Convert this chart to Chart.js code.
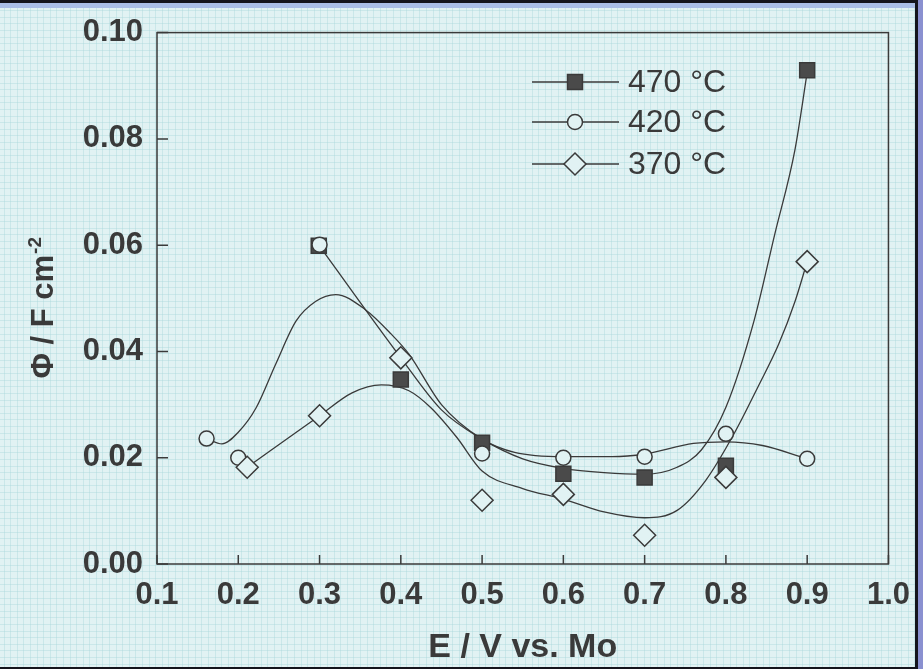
<!DOCTYPE html>
<html>
<head>
<meta charset="utf-8">
<script src="https://cdn.jsdelivr.net/npm/chart.js@4.4.1/dist/chart.umd.min.js"></script>
<style>
  html, body { margin: 0; padding: 0; background: #e1f2f3; }
  #wrap { width: 923px; height: 669px; position: relative; }
</style>
</head>
<body>
<div id="wrap"><canvas id="myChart"></canvas></div>
<script>
// measured points: E / V vs. Mo  ->  Phi / F cm^-2
var x470 = [0.299, 0.4, 0.5, 0.6, 0.7, 0.8, 0.9];
var y470 = [0.0599, 0.0347, 0.0228, 0.0170, 0.0163, 0.0185, 0.0929];
var x420 = [0.161, 0.2, 0.3, 0.5, 0.6, 0.7, 0.8, 0.9];
var y420 = [0.0236, 0.0200, 0.0601, 0.0208, 0.0200, 0.0202, 0.0245, 0.0198];
var x370 = [0.211, 0.3, 0.4, 0.5, 0.6, 0.7, 0.8, 0.9];
var y370 = [0.0182, 0.0279, 0.0388, 0.0120, 0.0131, 0.0054, 0.0163, 0.0569];

// smoothed guide curves drawn through the data
var fitX470 = [0.3, 0.4, 0.45, 0.5, 0.55, 0.6, 0.65, 0.7, 0.74, 0.77, 0.8, 0.835, 0.86, 0.885, 0.9];
var fitY470 = [0.0598, 0.0388, 0.0290, 0.0235, 0.0198, 0.0180, 0.0172, 0.0169, 0.0182, 0.0215, 0.0295, 0.0460, 0.0620, 0.0780, 0.0925];
var fitX420 = [0.161, 0.18, 0.2, 0.222, 0.246, 0.271, 0.295, 0.32, 0.356, 0.388, 0.41, 0.45, 0.5, 0.54, 0.6, 0.66, 0.7, 0.76, 0.8, 0.845, 0.9];
var fitY420 = [0.0236, 0.0226, 0.0248, 0.0294, 0.0376, 0.0457, 0.0494, 0.0507, 0.0479, 0.0433, 0.0395, 0.0300, 0.0235, 0.0210, 0.0202, 0.0202, 0.0207, 0.0227, 0.0230, 0.0223, 0.0198];
var fitX370 = [0.211, 0.3, 0.34, 0.376, 0.41, 0.437, 0.469, 0.5, 0.55, 0.6, 0.65, 0.7, 0.74, 0.775, 0.81, 0.84, 0.865, 0.885, 0.9];
var fitY370 = [0.0182, 0.0279, 0.0322, 0.0337, 0.0326, 0.0294, 0.0238, 0.0175, 0.0142, 0.0122, 0.0098, 0.0087, 0.0101, 0.0157, 0.0245, 0.0335, 0.0414, 0.0494, 0.0569];

var xTicks = [0.1, 0.2, 0.3, 0.4, 0.5, 0.6, 0.7, 0.8, 0.9, 1.0];
var yTicks = [0, 0.02, 0.04, 0.06, 0.08, 0.10];
var seriesNames = ['470 \u00b0C', '420 \u00b0C', '370 \u00b0C'];

var BG = '#e1f2f3';
var INK = '#3a3a3a';
var FONT = '"Liberation Sans", Arial, sans-serif';

function pts(xs, ys) {
  return xs.map(function(x, i) { return { x: x, y: ys[i] }; });
}

function curve(xs, ys) {
  return {
    data: pts(xs, ys),
    showLine: true,
    pointRadius: 0,
    borderColor: INK,
    borderWidth: 1.3,
    cubicInterpolationMode: 'monotone',
    fill: false,
    order: 5
  };
}

function markers(xs, ys, style, radius, fillColor, order) {
  return {
    data: pts(xs, ys),
    showLine: false,
    pointStyle: style,
    pointRadius: radius,
    pointHoverRadius: radius,
    pointBackgroundColor: fillColor,
    pointBorderColor: INK,
    pointBorderWidth: 1.5,
    order: order
  };
}

// draws a marker shape by hand for the legend
function marker(ctx, style, x, y) {
  ctx.save();
  ctx.lineWidth = 1.5;
  ctx.strokeStyle = INK;
  ctx.beginPath();
  if (style === 'rect') {
    ctx.fillStyle = '#4a4a4a';
    ctx.rect(x - 7.5, y - 7.5, 15, 15);
  } else if (style === 'circle') {
    ctx.fillStyle = BG;
    ctx.arc(x, y, 7.5, 0, Math.PI * 2);
  } else {
    ctx.fillStyle = BG;
    ctx.moveTo(x, y - 11);
    ctx.lineTo(x + 11, y);
    ctx.lineTo(x, y + 11);
    ctx.lineTo(x - 11, y);
    ctx.closePath();
  }
  ctx.fill();
  ctx.stroke();
  ctx.restore();
}

var paperPlugin = {
  id: 'paper',
  beforeDraw: function(chart) {
    var ctx = chart.ctx, w = chart.width, h = chart.height;
    ctx.save();
    ctx.fillStyle = BG;
    ctx.fillRect(0, 0, w, h);
    // graph-paper texture
    ctx.strokeStyle = 'rgba(165, 214, 218, 0.38)';
    ctx.lineWidth = 1;
    ctx.beginPath();
    for (var gx = 3.5; gx < w; gx += 6.6) { ctx.moveTo(Math.round(gx) + 0.5, 0); ctx.lineTo(Math.round(gx) + 0.5, h); }
    for (var gy = 3.5; gy < h; gy += 6.6) { ctx.moveTo(0, Math.round(gy) + 0.5); ctx.lineTo(w, Math.round(gy) + 0.5); }
    ctx.stroke();
    // outer frame
    ctx.fillStyle = '#14141c';
    ctx.fillRect(0, 0, w, 3);
    ctx.fillRect(w - 8, 0, 3, h);
    ctx.fillRect(0, h - 2, w, 2);
    ctx.fillStyle = '#a9bde6';
    ctx.fillRect(0, 3, w - 8, 5);
    ctx.fillStyle = '#8a90d0';
    ctx.fillRect(w - 5, 0, 5, h);
    ctx.restore();
  },
  beforeDatasetsDraw: function(chart) {
    var ctx = chart.ctx, a = chart.chartArea;
    var xs = chart.scales.x, ys = chart.scales.y;
    ctx.save();
    ctx.strokeStyle = INK;
    ctx.lineWidth = 1.5;
    ctx.strokeRect(a.left, a.top, a.right - a.left, a.bottom - a.top);
    // inward tick marks
    ctx.beginPath();
    xTicks.forEach(function(v) {
      var px = xs.getPixelForValue(v);
      ctx.moveTo(px, a.bottom); ctx.lineTo(px, a.bottom - 9);
    });
    yTicks.forEach(function(v) {
      var py = ys.getPixelForValue(v);
      ctx.moveTo(a.left, py); ctx.lineTo(a.left + 11, py);
    });
    ctx.stroke();
    ctx.restore();
  },
  afterDraw: function(chart) {
    var ctx = chart.ctx, a = chart.chartArea;
    ctx.save();
    ctx.fillStyle = INK;
    // x axis title
    ctx.font = 'bold 34px ' + FONT;
    ctx.textAlign = 'center';
    ctx.textBaseline = 'alphabetic';
    ctx.fillText('E / V vs. Mo', (a.left + a.right) / 2, 657);
    // y axis title with superscript
    ctx.translate(53, (a.top + a.bottom) / 2 + 10);
    ctx.rotate(-Math.PI / 2);
    ctx.textAlign = 'left';
    var main = '\u03a6 / F cm';
    ctx.font = 'bold 31px ' + FONT;
    var mw = ctx.measureText(main).width;
    ctx.font = 'bold 19px ' + FONT;
    var sw = ctx.measureText('-2').width;
    var start = -(mw + sw) / 2;
    ctx.font = 'bold 31px ' + FONT;
    ctx.fillText(main, start, 0);
    ctx.font = 'bold 19px ' + FONT;
    ctx.fillText('-2', start + mw + 1, -12);
    ctx.restore();

    // legend: line with marker, then label
    var styles = ['rect', 'circle', 'rectRot'];
    var rows = [82, 122, 164];
    ctx.save();
    ctx.strokeStyle = INK;
    ctx.lineWidth = 1.3;
    ctx.font = '32px ' + FONT;
    ctx.fillStyle = INK;
    ctx.textBaseline = 'middle';
    rows.forEach(function(y, i) {
      ctx.beginPath();
      ctx.moveTo(532, y); ctx.lineTo(619, y);
      ctx.stroke();
      marker(ctx, styles[i], 575, y);
      ctx.fillText(seriesNames[i], 628, y + 1);
    });
    ctx.restore();
  }
};

function renderChart() {
  var ctx = document.getElementById('myChart').getContext('2d');
  var tickFont = { family: FONT, size: 31, weight: 'bold' };
  var myChart = new Chart(ctx, {
    type: 'scatter',
    data: {
      datasets: [
        markers(x370, y370, 'rectRot', 11, BG, 0),
        markers(x420, y420, 'circle', 7.5, BG, 1),
        markers(x470, y470, 'rect', 10.6, '#4a4a4a', 2),
        curve(fitX470, fitY470),
        curve(fitX420, fitY420),
        curve(fitX370, fitY370)
      ]
    },
    options: {
      responsive: true,
      maintainAspectRatio: false,
      animation: false,
      layout: { padding: { left: 0, top: 30, right: 30, bottom: 0 } },
      plugins: { legend: { display: false }, tooltip: { enabled: false } },
      scales: {
        x: {
          type: 'linear',
          min: 0.1,
          max: 1.0,
          afterBuildTicks: function(scale) { scale.ticks = xTicks.map(function(v) { return { value: v }; }); },
          afterFit: function(scale) { scale.height = 105; },
          grid: { display: false, drawTicks: false },
          border: { display: false },
          ticks: {
            padding: 13,
            color: INK,
            font: tickFont,
            maxRotation: 0,
            autoSkip: false,
            callback: function(v) { return Number(v).toFixed(1); }
          }
        },
        y: {
          type: 'linear',
          min: 0,
          max: 0.1,
          afterBuildTicks: function(scale) { scale.ticks = yTicks.map(function(v) { return { value: v }; }); },
          afterFit: function(scale) { scale.width = 157; },
          grid: { display: false, drawTicks: false },
          border: { display: false },
          ticks: {
            padding: 14,
            color: INK,
            font: tickFont,
            autoSkip: false,
            callback: function(v) { return Number(v).toFixed(2); }
          }
        }
      }
    },
    plugins: [paperPlugin]
  });
}
document.addEventListener('DOMContentLoaded', renderChart);
</script>
</body>
</html>
